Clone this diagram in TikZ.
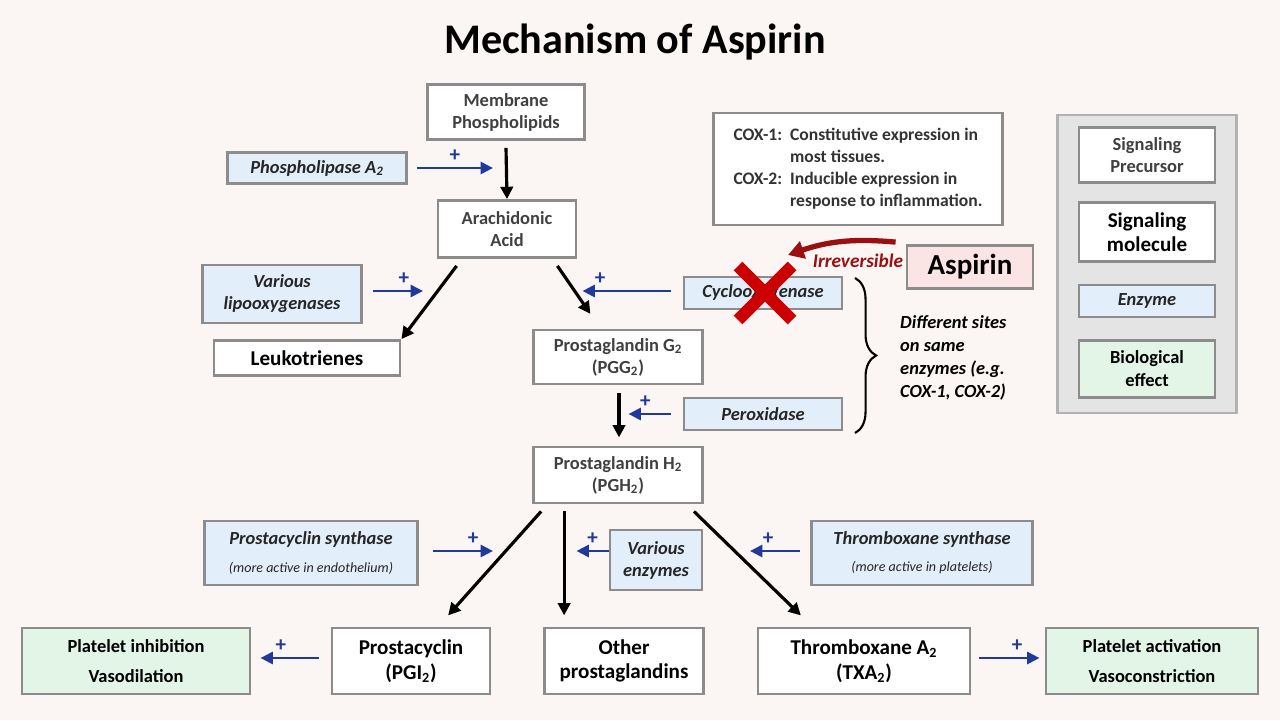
\documentclass[tikz,border=0pt]{standalone}
\usepackage{fontspec}
\setmainfont{Carlito}
\usetikzlibrary{arrows.meta,decorations.pathreplacing}
\definecolor{bgpaper}{HTML}{FBF6F3}
\definecolor{enzfill}{HTML}{E3EEFB}
\definecolor{efffill}{HTML}{E2F5E6}
\definecolor{asfill}{HTML}{FBE4E4}
\definecolor{plusblue}{HTML}{1F3A9A}
\definecolor{darkred}{HTML}{9A1010}
\definecolor{marble}{HTML}{E4E4E4}
\begin{document}
\begin{tikzpicture}[x=0.02cm,y=-0.02cm,
        base/.style={draw=black!45,line width=1.6pt,align=center,inner sep=2pt,font=\fontsize{10.5}{12.5}\selectfont\bfseries,text=black!75},
        precursor/.style={base,fill=white},
        molecule/.style={base,fill=white,text=black,font=\fontsize{12}{14}\selectfont\bfseries},
        enzyme/.style={base,fill=enzfill,text=black!85,font=\fontsize{10.5}{12.5}\selectfont\bfseries\itshape},
        effect/.style={base,fill=efffill,text=black,font=\fontsize{10.5}{13}\selectfont\bfseries},
        conv/.style={-{Triangle[length=7pt,width=7pt]},line width=1.8pt,black},
        act/.style={-{Triangle[length=7pt,width=7pt]},line width=1.2pt,plusblue},
        plus/.style={text=plusblue,font=\bfseries\large,inner sep=0pt}]
    % Background
    \fill[bgpaper] (0,0) rectangle (1280,720);
    \node[font=\fontsize{24}{28}\selectfont\bfseries] (title) at (635,42) {Mechanism of Aspirin};
    % Main pathway
    \node[precursor,minimum width=3.14cm,minimum height=1.1cm] (mem) at (506,112) {Membrane\\Phospholipids};
    \node[enzyme,minimum width=3.58cm,minimum height=0.62cm] (pla) at (317,168) {Phospholipase A\textsubscript{2}};
    \node[precursor,minimum width=2.76cm,minimum height=1.14cm] (ara) at (507,229) {Arachidonic\\Acid};
    \node[enzyme,minimum width=3.18cm,minimum height=1.16cm] (lox) at (282,294) {Various\\lipooxygenases};
    \node[molecule,minimum width=3.72cm,minimum height=0.7cm] (leu) at (307,358) {Leukotrienes};
    \node[enzyme,minimum width=3.16cm,minimum height=0.64cm] (cox) at (763,293) {Cyclooxygenase};
    \node[precursor,minimum width=3.38cm,minimum height=1.08cm] (pgg) at (618,357) {Prostaglandin G\textsubscript{2}\\(PGG\textsubscript{2})};
    \node[enzyme,minimum width=3.16cm,minimum height=0.64cm] (per) at (763,414) {Peroxidase};
    \node[precursor,minimum width=3.38cm,minimum height=1.12cm] (pgh) at (618,475) {Prostaglandin H\textsubscript{2}\\(PGH\textsubscript{2})};
    \node[enzyme,minimum width=4.26cm,minimum height=1.28cm] (pcs) at (311,553) {Prostacyclin synthase\\[3pt]{\fontsize{8}{9.5}\selectfont\mdseries\itshape (more active in endothelium)}};
    \node[enzyme,minimum width=1.84cm,minimum height=1.2cm] (var) at (656,560) {Various\\enzymes};
    \node[enzyme,minimum width=4.42cm,minimum height=1.28cm] (txs) at (922,553) {Thromboxane synthase\\[3pt]{\fontsize{8}{9.5}\selectfont\mdseries\itshape (more active in platelets)}};
    \node[effect,minimum width=4.56cm,minimum height=1.32cm] (inh) at (136,661) {Platelet inhibition\\[4pt]Vasodilation};
    \node[molecule,minimum width=3.16cm,minimum height=1.32cm] (pgi) at (411,661) {Prostacyclin\\(PGI\textsubscript{2})};
    \node[molecule,minimum width=3.18cm,minimum height=1.32cm] (oth) at (624,661) {Other\\prostaglandins};
    \node[molecule,minimum width=4.24cm,minimum height=1.32cm] (txa) at (864,661) {Thromboxane A\textsubscript{2}\\(TXA\textsubscript{2})};
    \node[effect,minimum width=4.24cm,minimum height=1.32cm] (agg) at (1152,661) {Platelet activation\\[4pt]Vasoconstriction};
    % COX note and aspirin
    \node[draw=black!45,line width=1.6pt,fill=white,minimum width=5.78cm,minimum height=2.24cm,font=\fontsize{10}{12.5}\selectfont\bfseries,text=black!80] (note) at (858,169)
        {\begin{tabular}{@{}l@{\ \ }l@{}}COX-1: & Constitutive expression in\\ & most tissues.\\ COX-2: & Inducible expression in\\ & response to inflammation.\end{tabular}};
    \node[base,fill=asfill,text=black,font=\fontsize{16.5}{19}\selectfont\bfseries,minimum width=2.52cm,minimum height=0.86cm] (asp) at (970,267) {Aspirin};
    \coordinate (aspin) at (788,255);
    \draw[-{Triangle[length=9pt,width=10pt]},line width=3pt,darkred] (asp.north west) ++(-10,-2) to[bend right=12] (aspin);
    \node[text=darkred,font=\fontsize{11}{13}\selectfont\bfseries\itshape] (irr) at (858,261) {Irreversible};
    \coordinate (block) at (765,293);
    \draw[red!80!black,line width=7pt] (block) ++(-27,-27) -- ++(54,54) (block) ++(27,-27) -- ++(-54,54);
    % Brace
    \coordinate (bt) at (855,278);
    \coordinate (bb) at (855,433);
    \draw[decorate,decoration={brace,amplitude=12pt},line width=1.2pt] (bt) -- (bb);
    \node[align=left,anchor=west,font=\fontsize{10.5}{13}\selectfont\bfseries\itshape] (sites) at (894,358) {Different sites\\on same\\enzymes (e.g.\\COX-1, COX-2)};
    % Conversions
    \draw[conv] (mem.south) ++(0,7) -- (ara.north);
    \draw[conv] (ara.south west) ++(20,7) -- (leu.north east);
    \draw[conv] (ara.south east) ++(-20,7) -- ++(33,48);
    \draw[conv] (pgg.south) ++(1,8) -- ++(0,44) coordinate (pghtop);
    \draw[conv] (pgh.south west) ++(9,7) -- ++(-93,104);
    \draw[conv] (pgh.south west) ++(32,7) -- ++(0,104);
    \draw[conv] (pgh.south east) ++(-10,7) -- ++(107,104);
    % Activations
    \draw[act] (pla.east) ++(9,0) -- ++(76,0) node[plus,midway,above=3pt] {+};
    \draw[act] (lox.east) ++(10,-3) -- ++(50,0) node[plus,pos=0.62,above=3pt] {+};
    \draw[act] (cox.west) ++(-12,-2) -- ++(-88,0) node[plus,pos=0.8,above=3pt] {+};
    \draw[act] (per.west) ++(-12,0) -- ++(-42,0) node[plus,pos=0.6,above=3pt] {+};
    \draw[act] (pcs.east) ++(14,-2) -- ++(60,0) node[plus,pos=0.67,above=3pt] {+};
    \draw[act] (var.west) ++(0,-9) -- ++(-32,0) node[plus,pos=0.5,above=3pt] {+};
    \draw[act] (txs.west) ++(-10,-2) -- ++(-50,0) node[plus,pos=0.64,above=3pt] {+};
    \draw[act] (pgi.west) ++(-12,-3) -- ++(-58,0) node[plus,pos=0.65,above=3pt] {+};
    \draw[act] (txa.east) ++(8,-3) -- ++(60,0) node[plus,pos=0.63,above=3pt] {+};
    % Legend
    \node[draw=black!30,line width=1.2pt,fill=marble,minimum width=3.58cm,minimum height=5.96cm] (legend) at (1147,264) {};
    \node[precursor,minimum width=2.72cm,minimum height=1.1cm] (lpre) at (1147,155) {Signaling\\Precursor};
    \node[molecule,minimum width=2.72cm,minimum height=1.18cm] (lmol) at (1147,232) {Signaling\\molecule};
    \node[enzyme,minimum width=2.72cm,minimum height=0.64cm] (lenz) at (1147,301) {Enzyme};
    \node[effect,minimum width=2.72cm,minimum height=1.14cm] (leff) at (1147,369) {Biological\\effect};
\end{tikzpicture}
\end{document}
